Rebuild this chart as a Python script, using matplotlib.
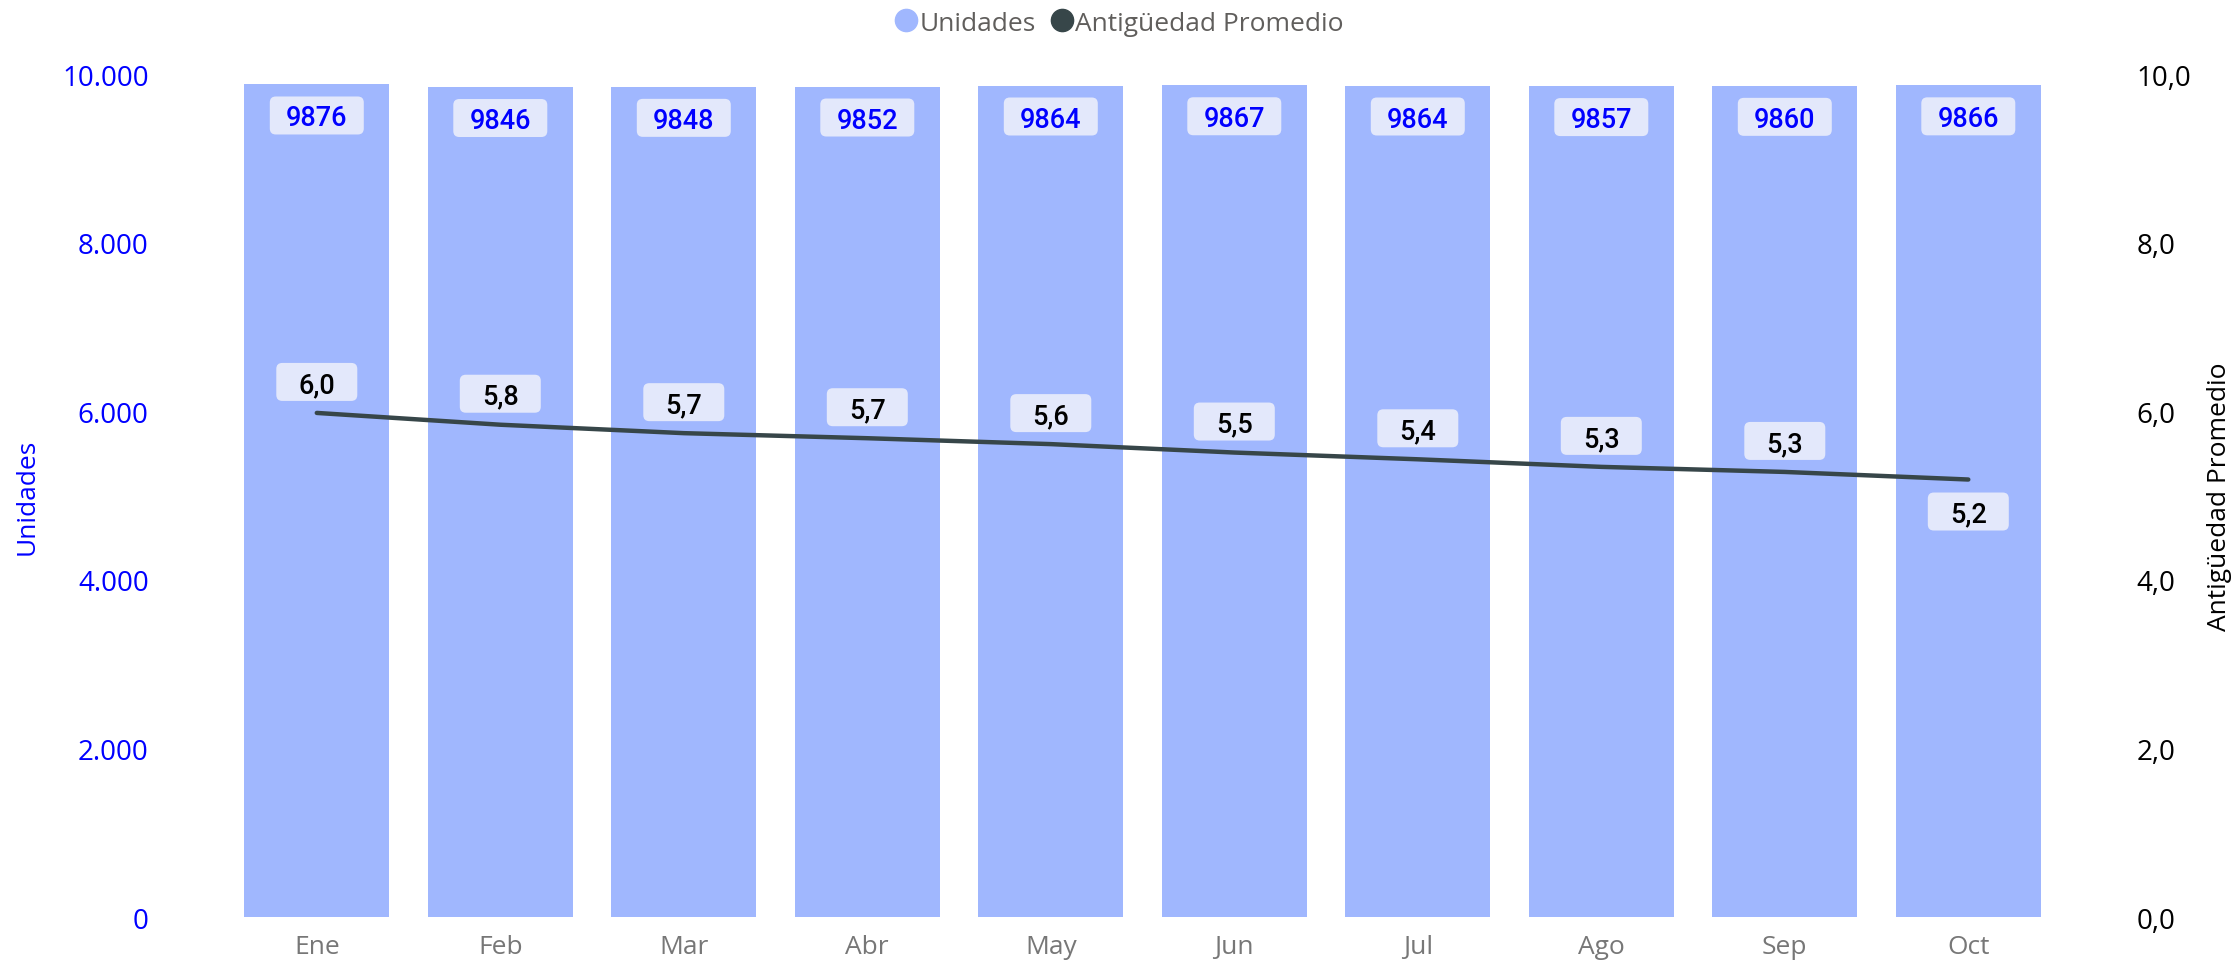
import matplotlib
matplotlib.use("Agg")
import matplotlib.pyplot as plt
from matplotlib.lines import Line2D
from matplotlib.patches import FancyBboxPatch
from matplotlib.transforms import ScaledTranslation

months = ["Ene", "Feb", "Mar", "Abr", "May", "Jun", "Jul", "Ago", "Sep", "Oct"]
unidades = [9876, 9846, 9848, 9852, 9864, 9867, 9864, 9857, 9860, 9866]
antiguedad = [5.98, 5.84, 5.74, 5.68, 5.61, 5.51, 5.43, 5.34, 5.28, 5.19]
left_ticks = [0, 2000, 4000, 6000, 8000, 10000]
left_ticklabels = ["0", "2.000", "4.000", "6.000", "8.000", "10.000"]
right_ticks = [0, 2, 4, 6, 8, 10]
right_ticklabels = ["0,0", "2,0", "4,0", "6,0", "8,0", "10,0"]

BAR = "#A0B7FE"
LINE = "#374649"
BOX = "#E3E8FB"
BLUE = "#0000FF"
GRAY = "#777777"
FONT = ["Open Sans", "DejaVu Sans"]
LBLFONT = ["Roboto", "DejaVu Sans"]

fig = plt.figure(figsize=(22.37, 9.62), dpi=100)
ax = fig.add_axes([0.1006, 0.0457, 0.8203, 0.8763])
ax2 = ax.twinx()


def label(axis, xv, yv, text, dy, w, color, z):
    trans = fig.dpi_scale_trans + ScaledTranslation(xv, yv, axis.transData)
    h = 0.38
    box = FancyBboxPatch((-w / 2, dy - h / 2), w, h,
                         boxstyle="round,pad=0,rounding_size=0.06",
                         transform=trans, fc=BOX, ec="none", zorder=z)
    axis.add_patch(box)
    axis.text(0, dy - 0.10, text, transform=trans, ha="center", va="baseline",
              fontsize=19.5, fontweight=500, color=color, family=LBLFONT, zorder=z + 1)


x = list(range(len(months)))
ax.bar(x, unidades, width=0.79, color=BAR, zorder=1)
ax.set_ylim(0, 10000)
ax.set_xlim(-0.5, len(months) - 0.5)
ax.set_yticks(left_ticks)
ax.set_yticklabels(left_ticklabels, fontsize=20, color=BLUE, family=FONT)
ax.set_xticks(x)
ax.set_xticklabels(months, fontsize=19, color=GRAY, family=FONT)
ax.tick_params(axis="x", length=0, pad=12)
ax.tick_params(axis="y", length=0, pad=55)
ax.set_ylabel("Unidades", fontsize=19, color=BLUE, family=FONT)
ax.yaxis.set_label_coords(-0.101, 0.5)
for s in ax.spines.values():
    s.set_visible(False)

for xi, v in zip(x, unidades):
    label(ax, xi, v, f"{v}", -0.31, 0.94, BLUE, 4)

ax2.plot(x, antiguedad, color=LINE, lw=3.2, solid_capstyle="round", zorder=3)
ax2.set_ylim(0, 10)
ax2.set_yticks(right_ticks)
ax2.set_yticklabels(right_ticklabels, fontsize=20, color="black", family=FONT)
ax2.tick_params(axis="y", length=0, pad=55)
ax2.set_ylabel("Antigüedad Promedio", fontsize=19, color="black", family=FONT)
ax2.yaxis.set_label_coords(1.08, 0.5)
for s in ax2.spines.values():
    s.set_visible(False)

for i, (xi, v) in enumerate(zip(x, antiguedad)):
    dy = -0.32 if i == len(x) - 1 else 0.31
    label(ax2, xi, v, f"{v:.1f}".replace(".", ","), dy, 0.81, "black", 5)

handles = [Line2D([], [], marker="o", ls="none", color=BAR, markersize=16),
           Line2D([], [], marker="o", ls="none", color=LINE, markersize=16)]
fig.legend(handles, ["Unidades", "Antigüedad Promedio"], loc="center",
           bbox_to_anchor=(0.5, 0.975), ncol=2, frameon=False,
           prop={"family": FONT, "size": 19}, labelcolor="#605E5C",
           handletextpad=0.0, columnspacing=0.5, handlelength=1.0)

fig.savefig("out.png", dpi=100)
